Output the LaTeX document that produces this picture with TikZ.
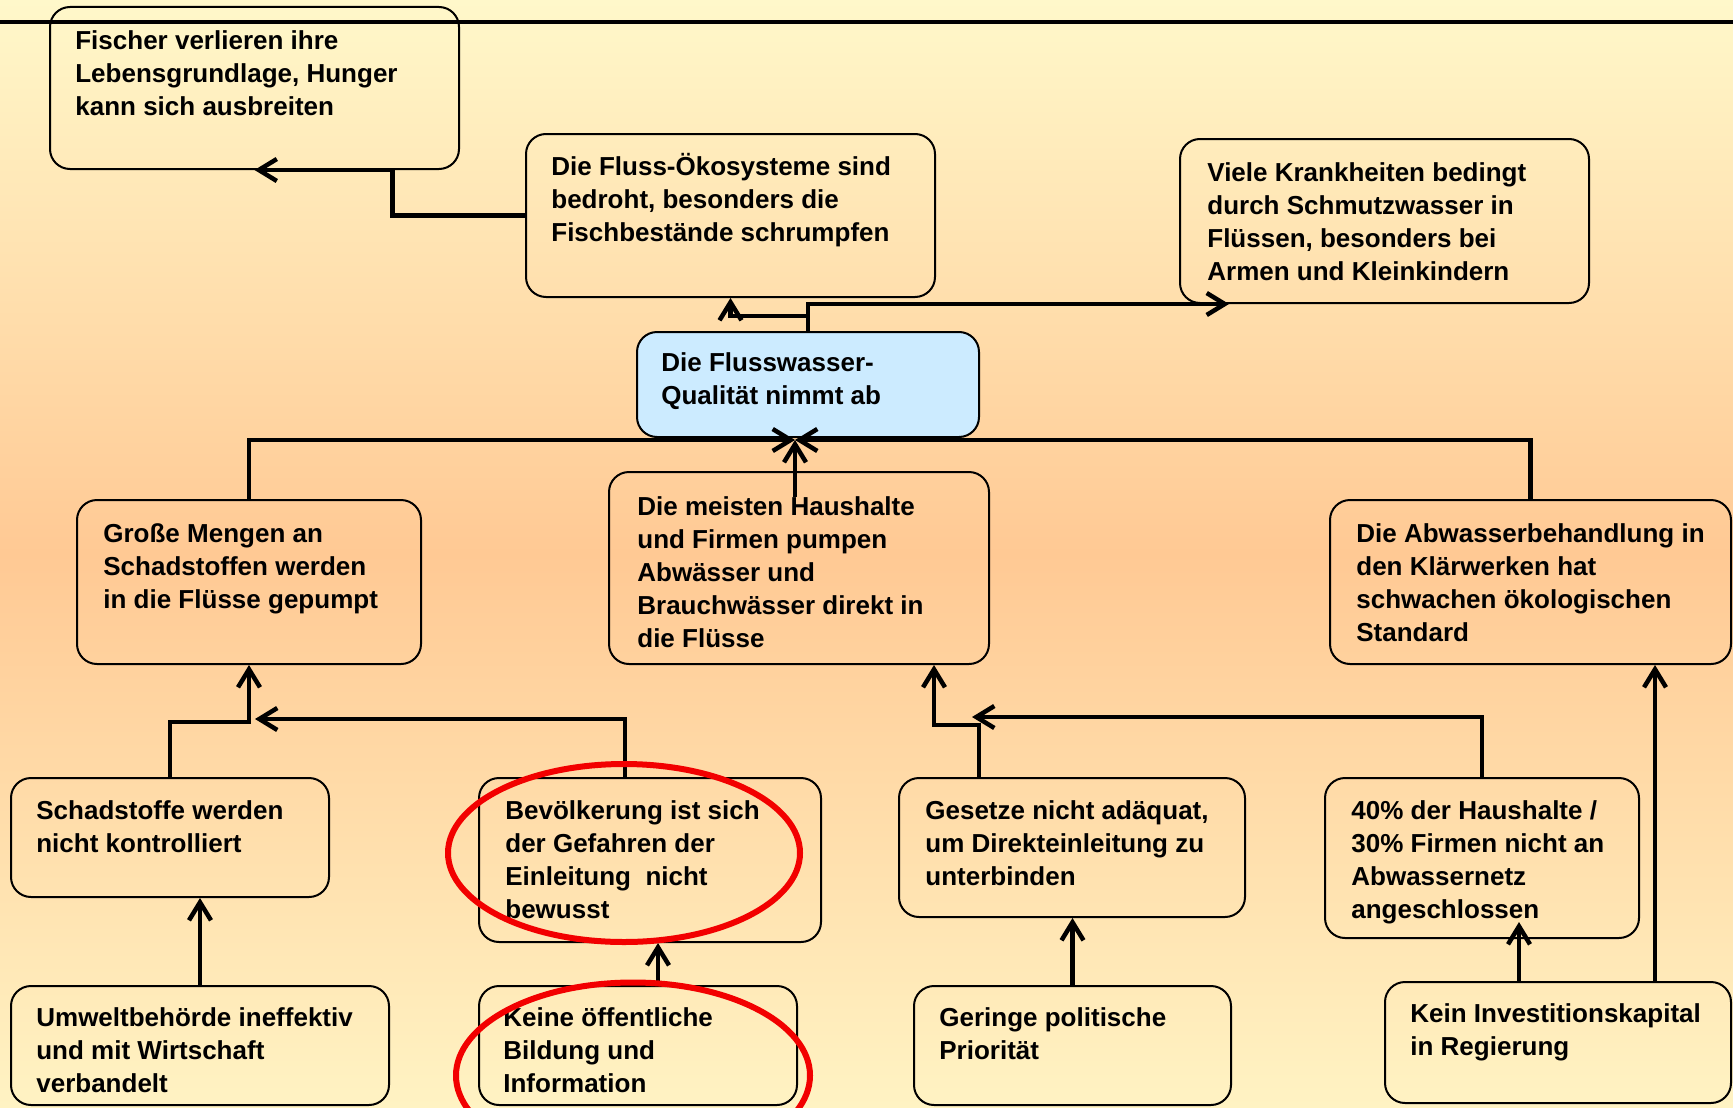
\documentclass[tikz,border=0pt]{standalone}
\usepackage{fontspec}
\setmainfont{Liberation Sans}
\usepackage{xcolor}
\usepackage{tikz}
\usetikzlibrary{
	arrows.meta,
	fit
}
\definecolor{bgtop}{HTML}{FFF8CA}
\definecolor{bgmid}{HTML}{FFC994}
\definecolor{bgbot}{HTML}{FFF3C3}
\definecolor{qualiblue}{HTML}{CCEBFF}
\definecolor{ringred}{HTML}{F20000}

\begin{document}
\begin{tikzpicture}[
		x=0.2mm, y=-0.2mm,
		>={Straight Barb[length=3.6mm,width=4.4mm]},
		box/.style={
			draw,
			line width=0.4mm,
			rounded corners=4mm,
			inner sep=0pt
		},
		txt/.style={
			anchor=north west,
			inner sep=0pt,
			align=left,
			font=\bfseries\fontsize{14.8pt}{18.8pt}\selectfont
		},
		link/.style={
			->,
			line width=0.9mm
		},
		ring/.style={
			draw=ringred,
			line width=1.2mm
		}
		]
		
		% Background
		\useasboundingbox (0,0) rectangle (1733,1107);
		\shade[top color=bgtop, bottom color=bgmid] (0,0) rectangle (1733,554);
		\shade[top color=bgmid, bottom color=bgbot] (0,553) rectangle (1733,1107);
		\draw[line width=0.65mm] (0,22) -- (1733,22);
		
		% Effects
		\node[box, fit={(50,7) (459,169)}] (fischer) {};
		\node[txt] (fischer-t) at ([shift={(26,24)}]fischer.north west) {Fischer verlieren ihre\\Lebensgrundlage, Hunger\\kann sich ausbreiten};
		
		\node[box, fit={(526,134) (935,297)}] (oeko) {};
		\node[txt] (oeko-t) at ([shift={(26,20)}]oeko.north west) {Die Fluss-Ökosysteme sind\\bedroht, besonders die\\Fischbestände schrumpfen};
		
		\node[box, fit={(1180,139) (1589,303)}] (krank) {};
		\node[txt] (krank-t) at ([shift={(28,24)}]krank.north west) {Viele Krankheiten bedingt\\durch Schmutzwasser in\\Flüssen, besonders bei\\Armen und Kleinkindern};
		
		% Core problem
		\node[box, fill=qualiblue, fit={(637,332) (979,437)}] (quali) {};
		\node[txt] (quali-t) at ([shift={(25,21)}]quali.north west) {Die Flusswasser-\\Qualität nimmt ab};
		
		% Direct causes
		\node[box, fit={(77,500) (421,664)}] (mengen) {};
		\node[txt] (mengen-t) at ([shift={(27,24)}]mengen.north west) {Große Mengen an\\Schadstoffen werden\\in die Flüsse gepumpt};
		
		\node[box, fit={(609,472) (989,664)}] (haushalte) {};
		\node[txt] (haushalte-t) at ([shift={(29,25)}]haushalte.north west) {Die meisten Haushalte\\und Firmen pumpen\\Abwässer und\\Brauchwässer direkt in\\die Flüsse};
		
		\node[box, fit={(1330,500) (1731,664)}] (klaer) {};
		\node[txt] (klaer-t) at ([shift={(27,24)}]klaer.north west) {Die Abwasserbehandlung in\\den Klärwerken hat\\schwachen ökologischen\\Standard};
		
		% Underlying causes
		\node[box, fit={(11,778) (329,897)}] (schad) {};
		\node[txt] (schad-t) at ([shift={(26,23)}]schad.north west) {Schadstoffe werden\\nicht kontrolliert};
		
		\node[box, fit={(479,778) (821,942)}] (bevoelk) {};
		\node[txt] (bevoelk-t) at ([shift={(27,23)}]bevoelk.north west) {Bevölkerung ist sich\\der Gefahren der\\Einleitung~~nicht\\bewusst};
		
		\node[box, fit={(899,778) (1245,917)}] (gesetze) {};
		\node[txt] (gesetze-t) at ([shift={(27,23)}]gesetze.north west) {Gesetze nicht adäquat,\\um Direkteinleitung zu\\unterbinden};
		
		\node[box, fit={(1325,778) (1639,938)}] (prozent) {};
		\node[txt] (prozent-t) at ([shift={(27,23)}]prozent.north west) {40\% der Haushalte /\\30\% Firmen nicht an\\Abwassernetz\\angeschlossen};
		
		% Root causes
		\node[box, fit={(11,986) (389,1105)}] (umwelt) {};
		\node[txt] (umwelt-t) at ([shift={(26,22)}]umwelt.north west) {Umweltbehörde ineffektiv\\und mit Wirtschaft\\verbandelt};
		
		\node[box, fit={(479,986) (797,1105)}] (bildung) {};
		\node[txt] (bildung-t) at ([shift={(25,22)}]bildung.north west) {Keine öffentliche\\Bildung und\\Information};
		
		\node[box, fit={(914,986) (1231,1105)}] (prio) {};
		\node[txt] (prio-t) at ([shift={(26,22)}]prio.north west) {Geringe politische\\Priorität};
		
		\node[box, fit={(1385,982) (1731,1103)}] (kapital) {};
		\node[txt] (kapital-t) at ([shift={(26,22)}]kapital.north west) {Kein Investitionskapital\\in Regierung};
		
		% Connections: effects
		\coordinate (q0) at ([shift={(0,18)}]oeko.south);
		\draw[link] (oeko.west) -| ([shift={(138,0)}]fischer.south) -- (fischer.south);
		\draw[link] (quali.north) |- (q0) -- (oeko.south);
		\draw[link] (quali.north) |- ([shift={(50,0)}]krank.south west);
		
		% Connections: direct causes
		\coordinate (meet) at ([shift={(-13,2)}]quali.south);
		\coordinate (h0) at ([shift={(-4,26)}]haushalte.north);
		\draw[link] (mengen.north) |- (meet);
		\draw[link] (klaer.north) |- (meet);
		\draw[link] (h0) -- (meet);
		
		% Connections: underlying causes
		\coordinate (jm) at ([shift={(0,57)}]mengen.south);
		\coordinate (b0) at ([shift={(-25,0)}]bevoelk.north);
		\draw[link] (schad.north) |- (jm) -- (mengen.south);
		\draw[link] (b0) |- ([shift={(6,-3)}]jm);
		
		\coordinate (g0) at ([shift={(-93,0)}]gesetze.north);
		\coordinate (jh) at ([shift={(135,60)}]haushalte.south);
		\draw[link] (g0) |- (jh) -- (jh |- haushalte.south);
		\draw[link] (prozent.north) |- ([shift={(-7,-60)}]g0);
		
		% Connections: root causes
		\coordinate (bi0) at ([shift={(20,0)}]bildung.north);
		\coordinate (k1) at ([shift={(-39,0)}]kapital.north);
		\coordinate (k2) at ([shift={(97,0)}]kapital.north);
		\draw[link] (umwelt.north) -- (umwelt.north |- schad.south);
		\draw[link] (bi0) -- (bi0 |- bevoelk.south);
		\draw[link] (prio.north) -- (prio.north |- gesetze.south);
		\draw[link, shorten >=-3.4mm] (k1) -- (k1 |- prozent.south);
		\draw[link] (k2) -- (k2 |- klaer.south);
		
		% Highlights
		\draw[ring] ([shift={(-26,-7)}]bevoelk.center) ellipse [x radius=176, y radius=89];
		\draw[ring] ([shift={(-5,30)}]bildung.center) ellipse [x radius=177, y radius=93];
		
	\end{tikzpicture}
\end{document}
